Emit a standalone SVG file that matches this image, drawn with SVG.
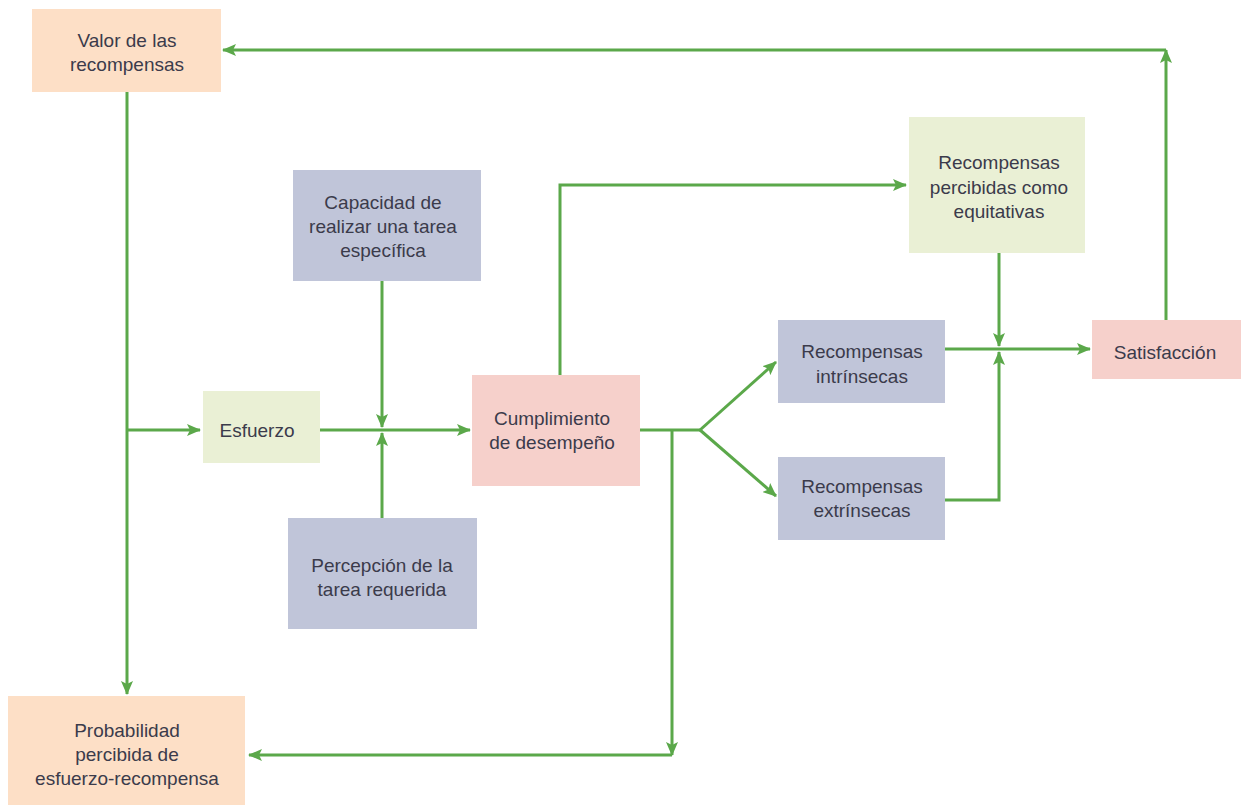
<svg xmlns="http://www.w3.org/2000/svg" width="1241" height="805" viewBox="0 0 1241 805">
<style>
text{font-family:"Liberation Sans",Arial,sans-serif;font-size:19px;fill:#3b3b4b;text-anchor:middle}
.peach{fill:#FDDFC6}.pink{fill:#F6D0CB}.lav{fill:#C0C5D9}.lgreen{fill:#EAF0D5}
.c{stroke:#5BA84A;stroke-width:3;fill:none}
.a{marker-end:url(#ah)}
</style>
<defs>
<marker id="ah" viewBox="0 0 14 12" refX="13" refY="6" markerWidth="14" markerHeight="12" markerUnits="userSpaceOnUse" orient="auto">
<path d="M0,0 L14,6 L0,12 L3,6 Z" fill="#5BA84A"/>
</marker>
</defs>
<rect width="1241" height="805" fill="#fff"/>
<g id="connectors">
<path class="c a" d="M127,92 V694"/>
<path class="c a" d="M127,430 H200"/>
<path class="c a" d="M320,430 H470"/>
<path class="c a" d="M382,281 V427"/>
<path class="c a" d="M382,518 V433"/>
<path class="c a" d="M560,375 V185 H906"/>
<path class="c" d="M640,430 H700"/>
<path class="c a" d="M700,430 L776,362"/>
<path class="c a" d="M700,430 L776,496"/>
<path class="c a" d="M672,430 V755"/>
<path class="c a" d="M672,755 H249"/>
<path class="c a" d="M999,253 V346"/>
<path class="c a" d="M945,349 H1090"/>
<path class="c a" d="M945,500 H999 V352"/>
<path class="c a" d="M1166,320 V50"/>
<path class="c a" d="M1166,50 H223"/>
</g>
<g id="valor"><rect class="peach" x="32" y="9" width="189" height="83"/><text x="127" y="47">Valor de las</text><text x="127" y="71">recompensas</text></g>
<g id="probabilidad"><rect class="peach" x="8" y="696" width="237" height="109"/><text x="127" y="737">Probabilidad</text><text x="127" y="761">percibida de</text><text x="127" y="785">esfuerzo-recompensa</text></g>
<g id="capacidad"><rect class="lav" x="293" y="170" width="188" height="111"/><text x="383" y="209">Capacidad de</text><text x="383" y="233">realizar una tarea</text><text x="383" y="257">específica</text></g>
<g id="esfuerzo"><rect class="lgreen" x="203" y="391" width="117" height="72"/><text x="257" y="437">Esfuerzo</text></g>
<g id="percepcion"><rect class="lav" x="288" y="518" width="189" height="111"/><text x="382" y="572">Percepción de la</text><text x="382" y="596">tarea requerida</text></g>
<g id="cumplimiento"><rect class="pink" x="472" y="375" width="168" height="111"/><text x="552" y="425">Cumplimiento</text><text x="552" y="449">de desempeño</text></g>
<g id="equitativas"><rect class="lgreen" x="909" y="117" width="176" height="136"/><text x="999" y="169">Recompensas</text><text x="999" y="194">percibidas como</text><text x="999" y="218">equitativas</text></g>
<g id="intrinsecas"><rect class="lav" x="778" y="320" width="167" height="83"/><text x="862" y="358">Recompensas</text><text x="862" y="383">intrínsecas</text></g>
<g id="extrinsecas"><rect class="lav" x="778" y="457" width="167" height="83"/><text x="862" y="493">Recompensas</text><text x="862" y="517">extrínsecas</text></g>
<g id="satisfaccion"><rect class="pink" x="1092" y="320" width="149" height="59"/><text x="1165" y="359">Satisfacción</text></g>
</svg>
